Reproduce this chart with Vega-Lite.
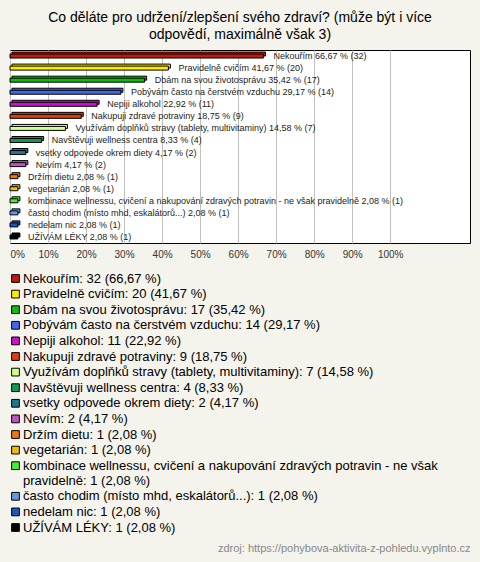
{
  "$schema": "https://vega.github.io/schema/vega-lite/v6.json",
  "width": 460,
  "height": 193,
  "autosize": {"type": "none"},
  "padding": {"left": 10, "right": 10, "top": 50, "bottom": 319},
  "background": "#f4f3ec",
  "title": {
    "text": ["Co děláte pro udržení/zlepšení svého zdraví? (může být i více", "odpovědí, maximálně však 3)"],
    "fontSize": 14,
    "font": "Liberation Sans",
    "fontWeight": "normal",
    "color": "#000000",
    "anchor": "middle",
    "offset": 8,
    "lineHeight": 17
  },
  "config": {
    "view": {"stroke": "#000000", "strokeWidth": 1, "fill": "#ffffff"},
    "font": "Liberation Sans"
  },
  "data": {
    "values": [
      {"name": "Nekouřím", "count": 32, "pct": 66.67},
      {"name": "Pravidelně cvičím", "count": 20, "pct": 41.67},
      {"name": "Dbám na svou životosprávu", "count": 17, "pct": 35.42},
      {"name": "Pobývám často na čerstvém vzduchu", "count": 14, "pct": 29.17},
      {"name": "Nepiji alkohol", "count": 11, "pct": 22.92},
      {"name": "Nakupuji zdravé potraviny", "count": 9, "pct": 18.75},
      {"name": "Využívám doplňků stravy (tablety, multivitaminy)", "count": 7, "pct": 14.58},
      {"name": "Navštěvuji wellness centra", "count": 4, "pct": 8.33},
      {"name": "vsetky odpovede okrem diety", "count": 2, "pct": 4.17},
      {"name": "Nevím", "count": 2, "pct": 4.17},
      {"name": "Držím dietu", "count": 1, "pct": 2.08},
      {"name": "vegetarián", "count": 1, "pct": 2.08},
      {"name": "kombinace wellnessu, cvičení a nakupování zdravých potravin - ne však pravidelně", "count": 1, "pct": 2.08},
      {"name": "často chodim (místo mhd, eskalátorů...)", "count": 1, "pct": 2.08},
      {"name": "nedelam nic", "count": 1, "pct": 2.08},
      {"name": "UŽÍVÁM LÉKY", "count": 1, "pct": 2.08}
    ]
  },
  "transform": [
    {"calculate": "datum.name + ': ' + datum.count + ' (' + replace(format(datum.pct, '.2f'), '.', ',') + ' %)'", "as": "legend"},
    {"calculate": "datum.name + ' ' + replace(format(datum.pct, '.2f'), '.', ',') + ' % (' + datum.count + ')'", "as": "label"}
  ],
  "encoding": {
    "y": {"field": "name", "type": "nominal", "sort": null, "axis": null}
  },
  "layer": [
    {
      "mark": {"type": "bar", "size": 4, "stroke": "#000000", "strokeWidth": 1, "xOffset": 2, "yOffset": -2},
      "encoding": {
        "x": {"field": "pct", "type": "quantitative"},
        "color": {"field": "legend", "type": "nominal", "sort": null}
      }
    },
    {
      "mark": {"type": "bar", "size": 4, "stroke": "#000000", "strokeWidth": 1},
      "encoding": {
        "x": {
          "field": "pct",
          "type": "quantitative",
          "scale": {"domain": [0, 121], "nice": false},
          "axis": {
            "values": [0, 10, 20, 30, 40, 50, 60, 70, 80, 90, 100],
            "labelExpr": "datum.value + '%'",
            "labelFontSize": 10,
            "labelColor": "#333333",
            "ticks": false,
            "domain": false,
            "grid": true,
            "gridColor": "#c0c0c0",
            "labelPadding": 6,
            "labelFlush": true,
            "title": "zdroj: https://pohybova-aktivita-z-pohledu.vyplnto.cz",
            "titleX": 460,
            "titleY": 305,
            "titleAlign": "right",
            "titleBaseline": "middle",
            "titleFontSize": 11,
            "titleFontWeight": "normal",
            "titleColor": "#888888"
          }
        },
        "color": {
          "field": "legend",
          "type": "nominal",
          "sort": null,
          "scale": {"range": ["#c41a0e", "#ffe800", "#11bb11", "#4466ee", "#cc11cc", "#e03c0a", "#ccff88", "#119955", "#1a7a8a", "#bb55bb", "#ee7711", "#eebb11", "#44ee33", "#6699dd", "#2255bb", "#000000"]},
          "legend": {
            "orient": "none",
            "legendX": -1,
            "legendY": 222,
            "title": null,
            "direction": "vertical",
            "columns": 1,
            "symbolType": "square",
            "symbolSize": 60,
            "symbolStrokeColor": "#333333",
            "symbolStrokeWidth": 1,
            "labelFontSize": 13,
            "labelColor": "#000000",
            "labelLimit": 500,
            "labelOffset": 1,
            "rowPadding": 1.6,
            "labelExpr": "indexof(datum.label, 'ne však ') > 0 ? [slice(datum.label, 0, indexof(datum.label, 'ne však ') + 7), slice(datum.label, indexof(datum.label, 'ne však ') + 8)] : datum.label"
          }
        }
      }
    },
    {
      "mark": {"type": "text", "align": "left", "baseline": "middle", "dx": 10, "fontSize": 9, "color": "#222222"},
      "encoding": {
        "x": {"field": "pct", "type": "quantitative"},
        "text": {"field": "label"}
      }
    }
  ]
}
